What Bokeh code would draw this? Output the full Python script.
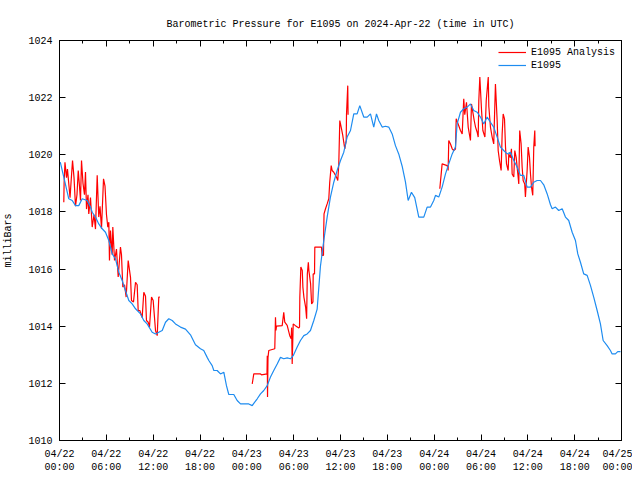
from bokeh.plotting import figure
from bokeh.models import FixedTicker, LinearAxis, Range1d, Legend, LegendItem
from bokeh.embed import file_html
from bokeh.resources import INLINE

TITLE = "Barometric Pressure for E1095 on 2024-Apr-22 (time in UTC)"
Y_LABEL = "milliBars"

tick_hours = [0, 6, 12, 18, 24, 30, 36, 42, 48, 54, 60, 66, 72]
tick_labels = ["04/22\n00:00", "04/22\n06:00", "04/22\n12:00", "04/22\n18:00",
               "04/23\n00:00", "04/23\n06:00", "04/23\n12:00", "04/23\n18:00",
               "04/24\n00:00", "04/24\n06:00", "04/24\n12:00", "04/24\n18:00",
               "04/25\n00:00"]
minor_hours = [3, 9, 15, 21, 27, 33, 39, 45, 51, 57, 63, 69]
y_ticks = [1010, 1012, 1014, 1016, 1018, 1020, 1022, 1024]

# E1095 (blue) : hours since 04/22 00:00 UTC, pressure in mbar
blue_hours = [0.1, 0.55, 1.19, 1.63, 2.05, 2.47, 2.91, 3.55, 3.97, 4.19, 4.61, 5.03, 5.47, 5.89,
              6.32, 6.75, 7.17, 7.6, 8.03, 8.45, 8.88, 9.31, 9.74, 10.38, 10.8, 11.23, 11.87,
              12.3, 12.72, 13.16, 13.58, 14.0, 14.44, 14.86, 15.5, 16.14, 16.78, 17.42, 18.06,
              18.48, 18.92, 19.13, 19.56, 19.77, 20.2, 20.62, 21.05, 21.39, 21.69, 22.33, 22.76,
              23.19, 24.25, 24.69, 24.89, 25.33, 25.75, 26.17, 26.61, 27.03, 27.45, 27.89, 28.31,
              28.73, 29.17, 29.59, 29.94, 30.45, 30.87, 31.3, 31.73, 32.15, 32.58, 33.01, 33.43,
              33.86, 34.29, 34.71, 35.14, 35.57, 36.0, 36.42, 36.85, 37.28, 37.7, 38.13, 38.47,
              38.98, 39.42, 39.84, 40.26, 40.61, 40.9, 41.34, 41.76, 42.18, 42.62, 43.04, 43.46,
              43.9, 44.32, 44.67, 45.09, 45.51, 46.03, 46.67, 47.1, 47.53, 47.95, 48.17, 48.59,
              49.02, 49.45, 49.87, 50.31, 50.73, 50.94, 51.37, 51.79, 52.23, 52.65, 53.07, 53.51,
              53.93, 54.35, 54.79, 55.21, 55.63, 56.07, 56.49, 56.91, 57.35, 57.77, 58.2, 58.63,
              59.05, 59.48, 59.91, 60.34, 60.76, 61.19, 61.62, 62.04, 62.48, 62.9, 63.12, 63.54,
              63.96, 64.4, 64.82, 65.24, 65.68, 66.1, 66.4, 66.74, 67.16, 67.6, 68.02, 68.44,
              68.88, 69.3, 69.65, 70.16, 70.58, 70.8, 71.22, 71.52, 71.87]
blue_mbar = [1019.74, 1019.22, 1018.46, 1018.4, 1018.22, 1018.22, 1018.46, 1018.4, 1018.17, 1017.99,
             1017.82, 1017.58, 1017.41, 1017.29, 1017.0, 1016.53, 1016.36, 1015.89, 1015.6, 1015.25,
             1014.9, 1014.78, 1014.61, 1014.43, 1014.2, 1014.08, 1013.79, 1013.73, 1013.79, 1013.85,
             1014.14, 1014.26, 1014.2, 1014.08, 1013.97, 1013.9, 1013.7, 1013.35, 1013.21, 1013.15,
             1012.91, 1012.8, 1012.62, 1012.45, 1012.45, 1012.33, 1012.39, 1011.92, 1011.61, 1011.61,
             1011.4, 1011.28, 1011.28, 1011.22, 1011.3, 1011.46, 1011.63, 1011.75, 1011.92, 1012.22,
             1012.45, 1012.68, 1012.91, 1012.86, 1012.89, 1012.86, 1012.97, 1013.27, 1013.5, 1013.67,
             1013.73, 1013.85, 1014.2, 1014.6, 1016.1, 1017.0, 1017.82, 1018.52, 1019.04, 1019.45,
             1019.8, 1020.09, 1020.62, 1020.85, 1021.43, 1021.43, 1021.72, 1021.32, 1021.32, 1021.43,
             1020.97, 1021.43, 1021.2, 1020.97, 1021.0, 1020.97, 1020.73, 1020.32, 1020.03, 1019.6,
             1019.05, 1018.4, 1018.69, 1018.5, 1017.82, 1017.82, 1018.17, 1018.17, 1018.4, 1018.58,
             1018.52, 1018.87, 1019.33, 1019.68, 1020.03, 1020.27, 1021.08, 1021.49, 1021.61, 1021.67,
             1021.78, 1021.55, 1021.49, 1021.32, 1021.08, 1021.32, 1021.14, 1020.97, 1020.62, 1020.27,
             1020.15, 1020.03, 1020.09, 1019.8, 1019.57, 1019.28, 1019.28, 1018.87, 1018.87, 1019.04,
             1019.1, 1019.1, 1018.95, 1018.63, 1018.25, 1018.11, 1018.17, 1018.05, 1018.11, 1017.82,
             1017.7, 1017.29, 1017.0, 1016.53, 1016.24, 1015.83, 1015.78, 1015.43, 1015.02, 1014.55,
             1014.08, 1013.5, 1013.32, 1013.15, 1013.03, 1013.03, 1013.11, 1013.11]

# E1095 Analysis (red), three separate runs
red1_hours = [0.55, 0.59, 0.7, 0.9, 1.02, 1.22, 1.35, 1.47, 1.67, 1.86, 2.05, 2.24, 2.4, 2.56, 2.69,
              2.82, 3.01, 3.2, 3.33, 3.46, 3.65, 3.75, 3.97, 4.19, 4.42, 4.61, 4.83, 5.03, 5.19,
              5.38, 5.64, 5.83, 6.02, 6.19, 6.32, 6.4, 6.53, 6.75, 6.83, 7.05, 7.3, 7.52, 7.81,
              7.94, 8.11, 8.33, 8.54, 8.8, 9.1, 9.22, 9.48, 9.74, 9.95, 10.08, 10.29, 10.59, 10.8,
              11.02, 11.14, 11.36, 11.53, 11.79, 12.0, 12.3, 12.52, 12.72, 12.85]
red1_mbar = [1018.34, 1019.0, 1019.74, 1019.2, 1019.5, 1018.9, 1018.5, 1019.0, 1019.8, 1019.2,
             1018.2, 1018.6, 1019.45, 1018.9, 1018.4, 1019.8, 1019.0, 1018.6, 1019.4, 1018.1,
             1018.6, 1017.93, 1018.5, 1017.47, 1017.9, 1017.4, 1019.28, 1017.82, 1018.2, 1017.41,
             1019.16, 1018.9, 1017.9, 1017.47, 1017.64, 1016.3, 1017.35, 1016.5, 1017.47, 1016.3,
             1016.7, 1015.72, 1016.77, 1016.5, 1015.37, 1015.45, 1015.02, 1016.3, 1015.7, 1014.9,
             1014.85, 1015.54, 1015.45, 1014.55, 1014.55, 1014.3, 1015.19, 1015.05, 1014.2, 1014.14,
             1013.97, 1015.02, 1014.9, 1013.85, 1013.67, 1015.02, 1015.02]
red2_hours = [24.69, 24.76, 24.89, 25.75, 25.88, 26.58, 26.62, 26.65, 26.71, 26.81, 27.58, 27.67,
              27.73, 27.8, 28.53, 28.73, 28.86, 29.17, 29.5, 29.68, 29.74, 29.81, 29.94, 30.23,
              30.66, 30.75, 30.79, 30.92, 31.1, 31.18, 31.31, 31.53, 31.66, 31.75, 31.88, 31.95,
              32.17, 32.3, 32.47, 32.5, 32.67, 32.71, 33.56, 33.65, 33.82, 33.86, 33.89, 34.08,
              34.29, 34.5, 34.62, 34.81, 34.93, 35.14, 35.36, 35.57, 35.65, 35.78, 35.91, 36.0,
              36.13, 36.29, 36.42, 36.55, 36.73, 36.77, 36.93, 36.97]
red2_mbar = [1011.98, 1012.1, 1012.33, 1012.33, 1012.3, 1012.33, 1012.97, 1011.52, 1012.9, 1013.15,
             1013.21, 1014.31, 1013.85, 1014.0, 1014.02, 1014.49, 1014.14, 1014.03, 1013.67, 1013.56,
             1013.95, 1012.68, 1014.08, 1014.02, 1013.94, 1013.97, 1015.02, 1016.07, 1015.95, 1015.37,
             1015.02, 1014.67, 1014.26, 1015.83, 1016.24, 1015.95, 1015.48, 1014.78, 1014.85, 1015.83,
             1015.83, 1016.77, 1016.77, 1016.48, 1016.48, 1017.47, 1017.93, 1018.11, 1018.28, 1018.46,
             1019.04, 1019.62, 1019.45, 1019.39, 1019.28, 1019.16, 1019.1, 1019.68, 1021.2, 1021.08,
             1020.91, 1020.68, 1020.44, 1020.21, 1020.5, 1021.43, 1022.42, 1021.4]
red3_hours = [48.72, 48.9, 49.02, 49.67, 49.79, 49.87, 50.09, 50.31, 50.51, 50.73, 50.82, 51.07,
              51.37, 51.59, 51.79, 51.92, 52.14, 52.36, 52.65, 52.78, 53.13, 53.3, 53.51, 53.64,
              53.72, 53.85, 54.07, 54.24, 54.5, 54.67, 54.93, 55.0, 55.21, 55.43, 55.63, 55.85,
              56.07, 56.2, 56.37, 56.58, 56.71, 56.84, 57.01, 57.14, 57.27, 57.48, 57.56, 57.77,
              57.9, 57.99, 58.2, 58.33, 58.51, 58.63, 58.76, 58.84, 58.96, 59.14, 59.27, 59.4,
              59.6, 59.69, 59.91, 60.04, 60.21, 60.34, 60.47, 60.63, 60.76, 60.89, 60.93]
red3_mbar = [1018.81, 1019.33, 1019.68, 1019.62, 1019.45, 1020.5, 1020.38, 1020.21, 1020.15, 1020.2,
             1021.26, 1021.08, 1020.85, 1020.73, 1021.96, 1021.4, 1021.84, 1020.97, 1020.5, 1021.78,
             1021.2, 1020.97, 1020.79, 1020.62, 1021.9, 1022.72, 1021.55, 1020.85, 1020.62, 1021.9,
             1022.72, 1021.7, 1020.97, 1020.62, 1020.38, 1022.48, 1021.2, 1020.15, 1019.8, 1019.45,
             1020.73, 1021.43, 1021.26, 1020.27, 1019.68, 1019.45, 1020.03, 1019.9, 1020.21, 1019.33,
             1019.22, 1020.15, 1019.9, 1019.57, 1019.22, 1018.98, 1020.85, 1020.38, 1019.57, 1019.1,
             1018.98, 1018.52, 1019.45, 1020.27, 1019.92, 1019.33, 1018.87, 1018.58, 1020.27, 1020.85,
             1020.3]

nan = float("nan")
red_hours = red1_hours + [nan] + red2_hours + [nan] + red3_hours
red_mbar = red1_mbar + [nan] + red2_mbar + [nan] + red3_mbar

FONT = "Liberation Mono"
FS = "10px"

p = figure(width=632, height=475, output_backend="svg", toolbar_location=None,
           x_range=Range1d(0, 72), y_range=Range1d(1010, 1024),
           min_border_left=59, min_border_right=11, min_border_top=40, min_border_bottom=32,
           title=TITLE)
p.title.align = "center"
p.title.text_font = FONT
p.title.text_font_size = FS
p.title.text_font_style = "normal"
p.title.text_color = "black"
p.title.standoff = 22
p.outline_line_color = "black"
p.outline_line_width = 1
p.xgrid.visible = False
p.ygrid.visible = False
p.background_fill_color = "white"
p.border_fill_color = "white"

x_ticker = FixedTicker(ticks=tick_hours, minor_ticks=minor_hours)
y_ticker = FixedTicker(ticks=y_ticks)

xa = p.xaxis[0]
xa.ticker = x_ticker
xa.major_label_overrides = {h: l for h, l in zip(tick_hours, tick_labels)}
ya = p.yaxis[0]
ya.ticker = y_ticker
ya.axis_label = Y_LABEL

for ax in (xa, ya):
    ax.major_tick_in = 6
    ax.major_tick_out = 0
    ax.minor_tick_in = 3
    ax.minor_tick_out = 0
    ax.major_label_text_font = FONT
    ax.major_label_text_font_size = FS
    ax.major_label_text_color = "black"
    ax.axis_label_text_font = FONT
    ax.axis_label_text_font_size = FS
    ax.axis_label_text_font_style = "normal"
    ax.axis_label_text_color = "black"
    ax.axis_line_color = "black"
    ax.major_tick_line_color = "black"
    ax.minor_tick_line_color = "black"
xa.major_label_standoff = 8
ya.major_label_standoff = 7
ya.axis_label_standoff = 11

top = LinearAxis(ticker=x_ticker, major_tick_in=6, major_tick_out=0, minor_tick_in=3,
                 minor_tick_out=0, major_label_text_font_size="0px", major_label_standoff=0,
                 major_label_text_color=None)
right = LinearAxis(ticker=y_ticker, major_tick_in=6, major_tick_out=0, minor_tick_in=3,
                   minor_tick_out=0, major_label_text_font_size="0px", major_label_standoff=0,
                   major_label_text_color=None)
p.add_layout(top, "above")
p.add_layout(right, "right")

r_red = p.line(red_hours, red_mbar, line_color="#ff0000", line_width=1.2)
r_blue = p.line(blue_hours, blue_mbar, line_color="#1e8cf0", line_width=1.2)

legend = Legend(items=[LegendItem(label="E1095 Analysis", renderers=[r_red]),
                       LegendItem(label="E1095", renderers=[r_blue])],
                location="top_right", border_line_alpha=0, background_fill_alpha=0,
                label_text_font=FONT, label_text_font_size=FS, label_text_color="black",
                glyph_width=28, glyph_height=12,
                label_height=12, spacing=1, padding=2, margin=4)
p.add_layout(legend)

open("out.html", "w").write(file_html(p, INLINE))
